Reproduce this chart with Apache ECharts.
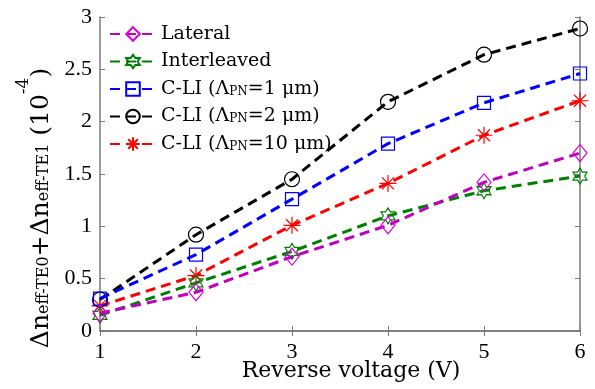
<!DOCTYPE html>
<html>
<head>
<meta charset="utf-8">
<script src="https://cdn.jsdelivr.net/npm/echarts@6/dist/echarts.min.js"></script>
<style>html,body{margin:0;padding:0;background:#fff;}#c{width:595px;height:389px;}</style>
</head>
<body>
<div id="c"></div>
<script>
// ---- data ----
var voltages = [1, 2, 3, 4, 5, 6];
var lateral = [0.17, 0.37, 0.71, 1.01, 1.42, 1.70];
var interleaved = [0.15, 0.46, 0.76, 1.10, 1.34, 1.48];
var cli1 = [0.31, 0.73, 1.26, 1.79, 2.18, 2.46];
var cli2 = [0.30, 0.92, 1.45, 2.19, 2.64, 2.89];
var cli10 = [0.24, 0.53, 1.01, 1.41, 1.87, 2.20];
var seriesNames = ['Lateral', 'Interleaved', 'C-LI (\u039BPN=1 \u03BCm)', 'C-LI (\u039BPN=2 \u03BCm)', 'C-LI (\u039BPN=10 \u03BCm)'];
var legendLabels = ['{t|Lateral}', '{t|Interleaved}', '{t|C-LI (\u039B}{s|PN}{t|=1 \u03BCm)}', '{t|C-LI (\u039B}{s|PN}{t|=2 \u03BCm)}', '{t|C-LI (\u039B}{s|PN}{t|=10 \u03BCm)}'];
var yTicks = [0, 0.5, 1, 1.5, 2, 2.5, 3];
var xTitle = 'Reverse voltage (V)';

function pairs(arr) { return voltages.map(function (v, i) { return [v, arr[i]]; }); }

var hexagram = 'path://M0,-1L0.2887,-0.5L0.866,-0.5L0.5774,0L0.866,0.5L0.2887,0.5L0,1L-0.2887,0.5L-0.866,0.5L-0.5774,0L-0.866,-0.5L-0.2887,-0.5Z';
var asterisk = 'path://M0,-1L0,1M-1,0L1,0M-0.7071,-0.7071L0.7071,0.7071M-0.7071,0.7071L0.7071,-0.7071';

var specs = [
  { data: lateral, line: '#C000C0', mark: '#DD00DD', symbol: 'diamond', size: [14, 17] },
  { data: interleaved, line: '#008000', mark: '#008000', symbol: hexagram, size: [14, 16] },
  { data: cli1, line: '#0000FF', mark: '#0000FF', symbol: 'rect', size: [13, 13] },
  { data: cli2, line: '#000000', mark: '#000000', symbol: 'circle', size: [15, 15] },
  { data: cli10, line: '#FF0000', mark: '#FF0000', symbol: asterisk, size: [17, 17] }
];

var series = specs.map(function (s, i) {
  return {
    name: seriesNames[i],
    type: 'line',
    data: pairs(s.data),
    symbol: s.symbol,
    symbolSize: s.size,
    showAllSymbol: true,
    lineStyle: { color: s.line, width: 3, type: [10, 6] },
    itemStyle: { color: 'rgba(0,0,0,0)', borderColor: s.mark, borderWidth: 1.2 },
    emphasis: { disabled: true },
    animation: false,
    z: 10 - i
  };
});

var axisColor = '#7a7a7a';
var tickFamily = 'Liberation Serif';

var option = {
  backgroundColor: '#fff',
  animation: false,
  textStyle: { fontFamily: tickFamily },
  grid: { left: 100, right: 15, top: 17, bottom: 58 },
  xAxis: [
    { type: 'value', min: 1, max: 6, interval: 1,
      axisLine: { show: true, lineStyle: { color: axisColor, width: 1.5 } },
      axisTick: { show: true, inside: true, length: 5, lineStyle: { color: axisColor } },
      axisLabel: { margin: 10, fontFamily: tickFamily, fontSize: 22, color: '#000' },
      splitLine: { show: false } },
    { type: 'value', min: 1, max: 6, interval: 1, position: 'top',
      axisLine: { show: true, lineStyle: { color: axisColor, width: 1.5 } },
      axisTick: { show: true, inside: true, length: 5, lineStyle: { color: axisColor } },
      axisLabel: { show: false }, splitLine: { show: false } }
  ],
  yAxis: [
    { type: 'value', min: 0, max: 3, interval: 0.5,
      axisLine: { show: true, lineStyle: { color: axisColor, width: 1.5 } },
      axisTick: { show: true, inside: true, length: 5, lineStyle: { color: axisColor } },
      axisLabel: { margin: 8, fontFamily: tickFamily, fontSize: 22, color: '#000',
        formatter: function (v) { return String(v); } },
      splitLine: { show: false } },
    { type: 'value', min: 0, max: 3, interval: 0.5, position: 'right',
      axisLine: { show: true, lineStyle: { color: axisColor, width: 1.5 } },
      axisTick: { show: true, inside: true, length: 5, lineStyle: { color: axisColor } },
      axisLabel: { show: false }, splitLine: { show: false } }
  ],
  legend: {
    show: true,
    orient: 'vertical',
    left: 104,
    top: 18,
    itemWidth: 46,
    itemHeight: 17,
    itemGap: 5.5,
    data: seriesNames,
    formatter: function (name) { return legendLabels[seriesNames.indexOf(name)]; },
    textStyle: {
      fontFamily: 'DejaVu Serif', fontSize: 19, color: '#000', lineHeight: 22,
      rich: {
        t: { fontFamily: 'DejaVu Serif', fontSize: 19, color: '#000', lineHeight: 22 },
        s: { fontFamily: 'DejaVu Serif', fontSize: 12, color: '#000', lineHeight: 17, height: 17, verticalAlign: 'bottom' }
      }
    }
  },
  graphic: [
    { type: 'text', x: 351, y: 371, silent: true,
      style: { text: xTitle, fontFamily: 'DejaVu Serif', fontSize: 22, fill: '#000', align: 'center', verticalAlign: 'middle' } },
    { type: 'text', x: 41.5, y: 208, rotation: Math.PI / 2, silent: true,
      style: {
        text: '{m|\u0394n}{s|eff-TE0}{m|+\u0394n}{s|eff-TE1}{m| (10}{p|-4}{m|)}',
        align: 'center', verticalAlign: 'middle', fill: '#000',
        rich: {
          m: { fontFamily: 'DejaVu Serif', fontSize: 25, lineHeight: 53, fill: '#000' },
          s: { fontFamily: 'DejaVu Serif', fontSize: 16, lineHeight: 48, height: 48, verticalAlign: 'bottom', fill: '#000' },
          p: { fontFamily: 'DejaVu Serif', fontSize: 17, lineHeight: 17, verticalAlign: 'top', fill: '#000' }
        }
      } }
  ],
  series: series
};

var chart = echarts.init(document.getElementById('c'), null, { renderer: 'canvas' });
chart.setOption(option);
</script>
</body>
</html>
